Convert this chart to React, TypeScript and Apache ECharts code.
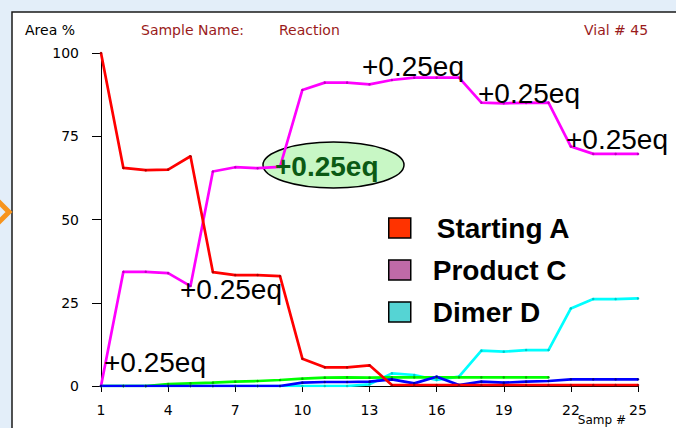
import React, { useEffect, useRef } from "react";
import * as echarts from "echarts";

const samples = ["1","2","3","4","5","6","7","8","9","10","11","12","13","14","15","16","17","18","19","20","21","22","23","24","25"];
const yMin = 0;
const yMax = 100;
const yStep = 25;

const startingA = [100, 65.5, 64.8, 65, 69, 34.2, 33.3, 33.3, 33, 8.2, 5.6, 5.6, 6.2, 0.3, 0.3, 0.3, 0.3, 0.3, 0.3, 0.3, 0.3, 0.3, 0.3, 0.3, 0.3];
const productC = [0, 34.3, 34.3, 33.9, 30, 64.4, 65.7, 65.4, 65.8, 88.9, 91.1, 91.1, 90.6, 91.9, 92.6, 92.6, 92.6, 85.1, 84.9, 85, 85.1, 71.9, 69.7, 69.7, 69.7];
const dimerD = [0, 0, 0, 0, 0, 0, 0, 0, 0, 0, 0, 0, 0.5, 3.8, 3.3, 1.8, 2.8, 10.6, 10.3, 10.8, 10.8, 23.3, 26.1, 26.1, 26.3];
const impurityG = [0, 0, 0, 0.6, 0.8, 1.0, 1.3, 1.5, 1.8, 2.2, 2.5, 2.6, 2.5, 2.6, 2.6, 2.6, 2.6, 2.6, 2.6, 2.6, 2.6, null, null, null, null];
const impurityB = [0, 0, 0, 0, 0, 0, 0, 0, 0, 1.0, 1.2, 1.2, 1.3, 2.0, 0.8, 2.8, 0.3, 1.3, 1.0, 1.3, 1.5, 2.0, 2.0, 2.0, 2.0];

const legendNames = ["Starting A", "Product C", "Dimer D"];
const legendColors = ["#ff3300", "#c06aa8", "#55d4d4"];

const addLabel = "+0.25eq";
const notePositions = [
  { x: 104, y: 362 },
  { x: 180, y: 289 },
  { x: 362, y: 66 },
  { x: 478, y: 93 },
  { x: 566, y: 139 },
];

export default function App() {
  const ref = useRef<HTMLDivElement>(null);
  useEffect(() => {
    if (!ref.current) return;
    const chart = echarts.init(ref.current, null, { renderer: "svg" });
    const lineSeries = (name: string, data: (number | null)[], color: string, dot: string) => ({
      name,
      type: "line",
      data,
      lineStyle: { color, width: 2.7 },
      itemStyle: { color: dot },
      symbol: "circle",
      symbolSize: 2.5,
      showSymbol: true,
      connectNulls: false,
    });
    const noteFont = 'Liberation Sans, Arial, sans-serif';
    chart.setOption({
      animation: false,
      backgroundColor: "#e3eef9",
      grid: { left: 101, top: 53, right: 38, bottom: 42, outerBoundsMode: "none" },
      xAxis: {
        type: "category",
        data: samples,
        boundaryGap: false,
        axisLine: { lineStyle: { color: "#000", width: 1 } },
        axisTick: { interval: 2, length: 6, lineStyle: { color: "#000" } },
        axisLabel: { interval: 2, margin: 17, color: "#000", fontSize: 14, fontFamily: "DejaVu Sans, sans-serif" },
        splitLine: { show: false },
      },
      yAxis: {
        type: "value",
        min: yMin,
        max: yMax,
        interval: yStep,
        axisLine: { show: true, lineStyle: { color: "#000", width: 1 } },
        axisTick: { show: true, length: 9, lineStyle: { color: "#000" } },
        axisLabel: { margin: 22, color: "#000", fontSize: 14, fontFamily: "DejaVu Sans, sans-serif" },
        splitLine: { show: false },
      },
      legend: {
        orient: "vertical",
        left: 388,
        top: 214,
        padding: 0,
        itemWidth: 22,
        itemHeight: 20,
        itemGap: 14,
        icon: "rect",
        selectedMode: false,
        textStyle: {
          fontFamily: noteFont,
          fontWeight: "bold",
          fontSize: 28,
          color: "#000",
          padding: [0, 0, 0, 17],
        },
        data: legendNames.map((n, i) => ({
          name: n,
          itemStyle: { color: legendColors[i], borderColor: "#000", borderWidth: 1.5 },
          ...(i === 0 ? { textStyle: { padding: [0, 0, 0, 21] } } : {}),
        })),
      },
      series: [
        lineSeries("Dimer D", dimerD, "#00ffff", "#00c8c8"),
        lineSeries("Impurity", impurityG, "#00ff00", "#00b000"),
        lineSeries("Product C", productC, "#ff00ff", "#c000c0"),
        lineSeries("Impurity 2", impurityB, "#0000ff", "#000099"),
        lineSeries("Starting A", startingA, "#ff0000", "#b00000"),
      ],
      graphic: [
        { type: "rect", z: -10, shape: { x: 12, y: 12, width: 700, height: 450 }, style: { fill: "#ffffff", stroke: "#1a1a1a", lineWidth: 1.5 } },
        { type: "polyline", z: -5, shape: { points: [[-3, 200], [9, 212], [-3, 224]] }, style: { stroke: "#f7941d", lineWidth: 5, fill: "none" } },
        { type: "text", left: 25, top: 23, style: { text: "Area %", fill: "#000", font: '14px "DejaVu Sans", sans-serif' } },
        { type: "text", left: 141, top: 23, style: { text: "Sample Name:", fill: "#9a1b1b", font: '14px "DejaVu Sans", sans-serif' } },
        { type: "text", left: 279, top: 23, style: { text: "Reaction", fill: "#9a1b1b", font: '14px "DejaVu Sans", sans-serif' } },
        { type: "text", left: 584, top: 23, style: { text: "Vial # 45", fill: "#9a1b1b", font: '14px "DejaVu Sans", sans-serif' } },
        { type: "text", x: 626, y: 414, style: { text: "Samp #", fill: "#000", font: '12px "DejaVu Sans", sans-serif', align: "right", verticalAlign: "top" } },
        { type: "ellipse", z: 1, shape: { cx: 333.5, cy: 165, rx: 70.5, ry: 23 }, style: { fill: "#c8f7c5", stroke: "#000", lineWidth: 1.5 } },
        { type: "text", z: 100, x: 275, y: 166, style: { text: addLabel, fill: "#0b5a14", font: 'bold 28px "Liberation Sans", Arial, sans-serif', verticalAlign: "middle", align: "left" } },
        ...notePositions.map((p) => ({
          type: "text",
          z: 100,
          x: p.x,
          y: p.y,
          style: { text: addLabel, fill: "#000", font: '28px "Liberation Sans", Arial, sans-serif', verticalAlign: "middle", align: "left" },
        })),
      ],
    });
    return () => chart.dispose();
  }, []);
  return <div ref={ref} style={{ position: "fixed", left: 0, top: 0, width: 676, height: 428 }} />;
}
